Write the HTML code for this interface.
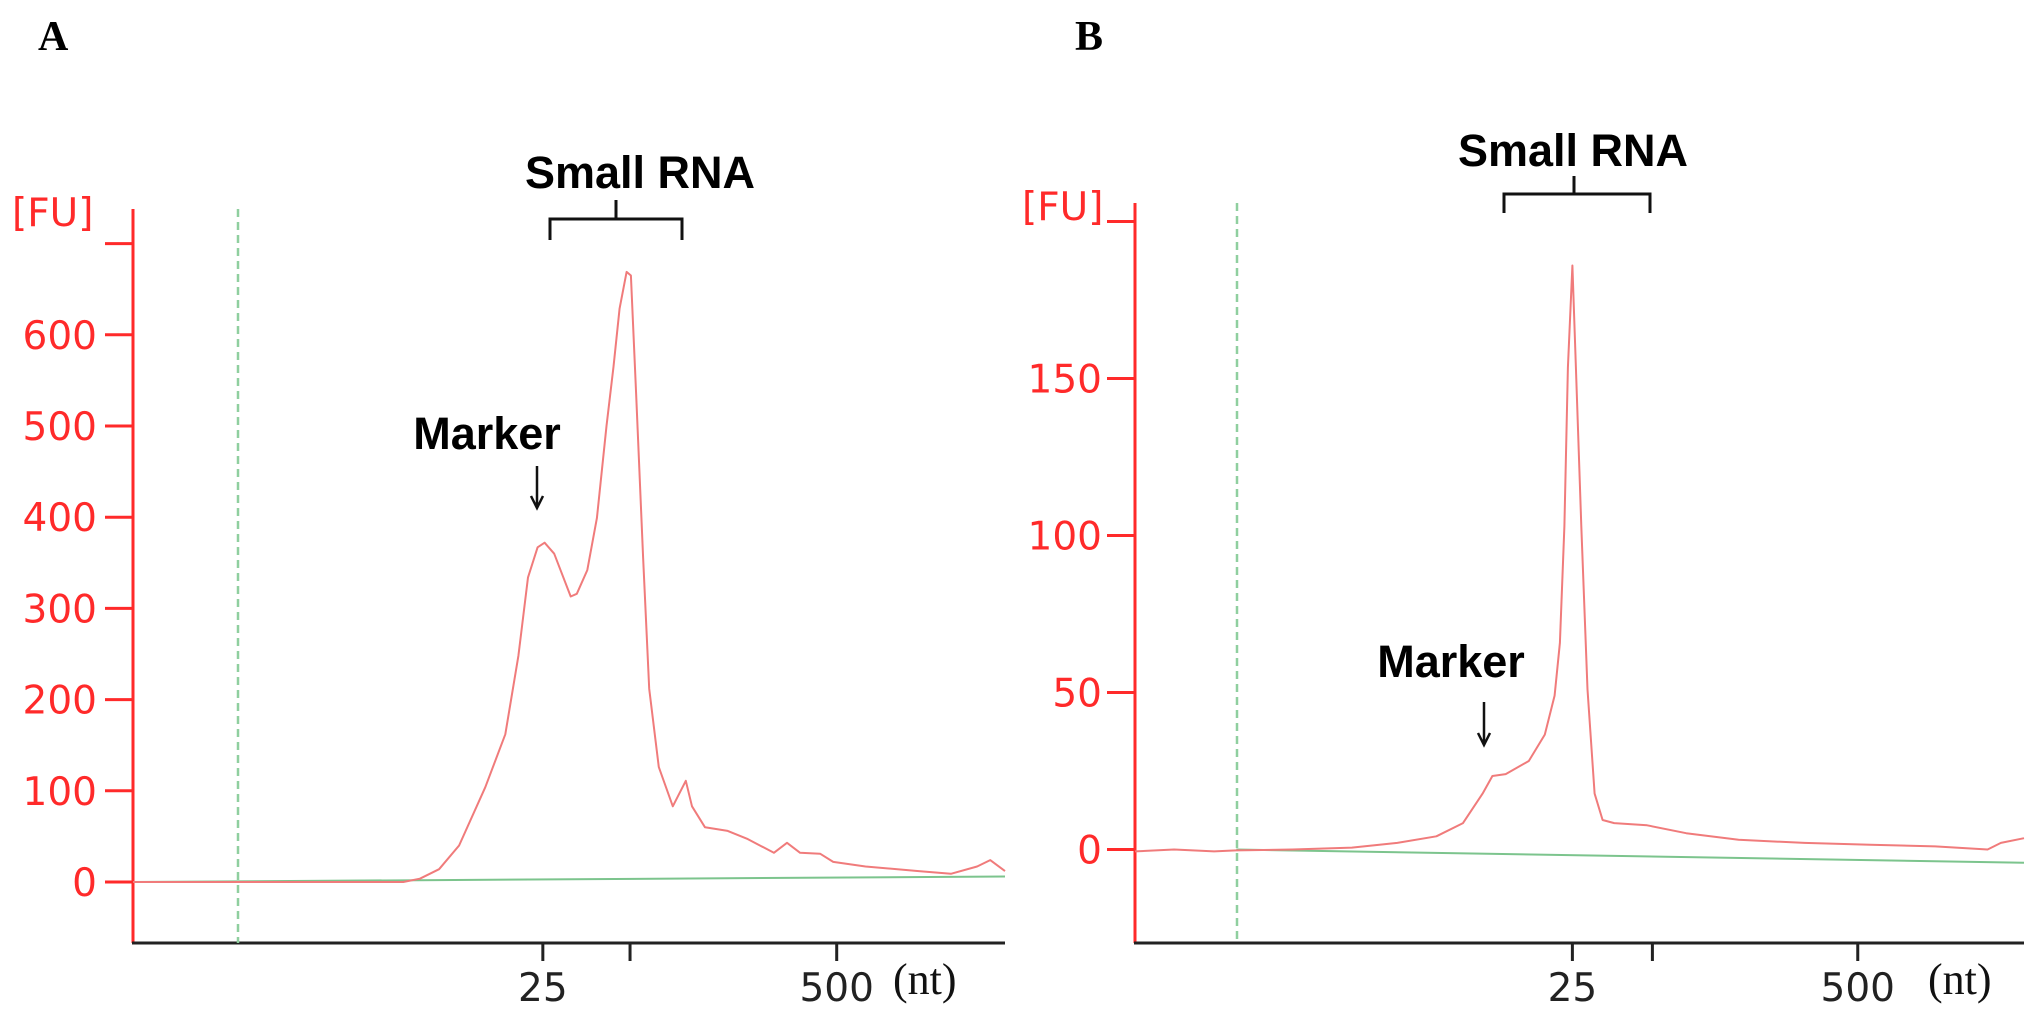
<!DOCTYPE html>
<html><head><meta charset="utf-8"><style>
html,body{margin:0;padding:0;background:#fff;}
svg{display:block;}
.tick{font-family:"DejaVu Sans","Liberation Sans",sans-serif;font-size:39px;}
.ann{font-family:"Liberation Sans",sans-serif;font-weight:bold;font-size:45px;fill:#000;}
.ser{font-family:"Liberation Serif",serif;}
</style></head><body>
<svg id="fig" width="2034" height="1010" viewBox="0 0 2034 1010" xmlns="http://www.w3.org/2000/svg"></svg>
<script>
// Panel A data (x in relative migration units 0-100, y in FU)
const aTimes = [0,19,31,32.9,35.1,37.4,40.4,42.7,44.2,45.3,46.4,47.2,48.3,50.2,50.9,52.1,53.2,54.3,55.1,55.8,56.6,57.1,57.7,58.5,59.2,60.3,61.9,63.4,64.1,65.6,68.2,70.5,73.5,75,76.5,78.8,80.3,84,90.1,93.8,96.8,98.3,100];
const aFU = [0,0,0,3.6,14,40,104,162,248,334,367,372,360,313,316,342,399,500,565,629,669,665,536,356,212,126,83,111,83,60,56,47,32,43,32,31,22,17,12,9,17,24,12];
const aBaseT = [0,100];
const aBaseFU = [0,6];
const aYTicks = [0,100,200,300,400,500,600,700];
const aYLabels = ["0","100","200","300","400","500","600",""];
const aXTicks = [47,57,80.7];
const aXLabels = ["25","","500"];
// Panel B data
const bTimes = [0,4.4,8.9,11.4,17.7,24.4,29.5,33.9,36.9,39.1,40.2,41.7,44.3,46.1,47.2,47.8,48.3,48.7,49.2,49.6,50.2,50.9,51.7,52.6,53.9,57.6,62,67.9,75.3,82.7,90,95.9,97.4,100];
const bFU = [-0.6,0,-0.6,-0.3,0,0.6,2.1,4.2,8.4,17.8,23.4,24,28.2,36.6,49,65.8,103,153.5,186,153.5,103,51,17.8,9.4,8.4,7.7,5.2,3.1,2.1,1.5,1,0,2.1,3.6];
const bBaseT = [11.4,100];
const bBaseFU = [0,-4.2];
const bYTicks = [0,50,100,150,200];
const bYLabels = ["0","50","100","150",""];
const bXTicks = [49.2,58.2,81.3];
const bXLabels = ["25","","500"];

const NS="http://www.w3.org/2000/svg";
const svg=document.getElementById('fig');
function mk(tag,attrs,parent){const e=document.createElementNS(NS,tag);for(const k in attrs)e.setAttribute(k,attrs[k]);(parent||svg).appendChild(e);return e;}

function panel(p){
  const g=mk('g',{});
  
  
  const sx=t=>p.x0+(t/100)*(p.x1-p.x0);
  const sy=v=>p.y0pix-(v/p.unit)*p.unitPx;
  const L=mk('text',{x:p.letterX,y:50,'font-size':42,'font-weight':'bold',class:'ser'},g);L.textContent=p.letter;
  
  
  const ya=mk('line',{x1:p.x0,y1:p.yTop,x2:p.x0,y2:p.yBot,stroke:'#ff2a2a','stroke-width':3},g);
  
  
  const fu=mk('text',{x:p.fuX,y:p.fuY,fill:'#ff2a2a',class:'tick','font-size':36},g);fu.textContent='[FU]';
  
  
  p.yTicks.forEach((v,i)=>{
    const y=sy(v);
    const t=mk('line',{x1:p.x0-28,y1:y,x2:p.x0,y2:y,stroke:'#ff2a2a','stroke-width':3},g);
    
    
    if(p.yLabels[i]){const tx=mk('text',{x:p.labEnd,y:y+14,'text-anchor':'end',fill:'#ff2a2a',class:'tick'},g);tx.textContent=p.yLabels[i];
      
      }
  });
  const xa=mk('line',{x1:p.x0-1,y1:p.yBot,x2:p.x1,y2:p.yBot,stroke:'#222','stroke-width':3},g);
  
  
  p.xTicks.forEach((t,i)=>{
    const x=sx(t);
    const tk=mk('line',{x1:x,y1:p.yBot,x2:x,y2:p.yBot+18,stroke:'#222','stroke-width':3},g);
    
    
    if(p.xLabels[i]){const tx=mk('text',{x:x,y:1001,'text-anchor':'middle',fill:'#222',class:'tick'},g);tx.textContent=p.xLabels[i];
      
      }
  });
  const nt=mk('text',{x:p.ntX,y:994,'font-size':44,class:'ser',fill:'#111'},g);nt.textContent='(nt)';
  
  
  const dl=mk('line',{x1:p.dashX,y1:p.yTop,x2:p.dashX,y2:p.yBot,stroke:'#8fcf9f','stroke-width':2.5,'stroke-dasharray':'8,5'},g);
  
  
  const bl=mk('polyline',{points:p.baseT.map((t,i)=>sx(t)+','+sy(p.baseFU[i])).join(' '),fill:'none',stroke:'#7cc48d','stroke-width':2},g);
  
  
  const tr=mk('polyline',{points:p.times.map((t,i)=>sx(t).toFixed(1)+','+sy(p.fu[i]).toFixed(1)).join(' '),fill:'none',stroke:'#f07b7b','stroke-width':2,'stroke-linejoin':'round'},g);
  
  
  const sr=mk('text',{x:p.srX,y:p.srY,'text-anchor':'middle',class:'ann'},g);sr.textContent='Small RNA';
  
  
  const b=p.br;
  const br=mk('path',{d:`M${b[0]},${b[3]} L${b[0]},${b[2]} L${b[1]},${b[2]} L${b[1]},${b[3]} M${(b[0]+b[1])/2+b[5]},${b[2]} L${(b[0]+b[1])/2+b[5]},${b[4]}`,fill:'none',stroke:'#111','stroke-width':3},g);
  
  
  const mkT=mk('text',{x:p.mkX,y:p.mkY,'text-anchor':'middle',class:'ann'},g);mkT.textContent='Marker';
  
  
  const ar=mk('path',{d:`M${p.arX},${p.arY0} L${p.arX},${p.arY1} M${p.arX-6},${p.arY1-12} L${p.arX},${p.arY1} L${p.arX+6},${p.arY1-12}`,fill:'none',stroke:'#111','stroke-width':2.5},g);
  
  
}

panel({name:'panel-a',letter:'A',letterX:38,x0:133,x1:1005,yTop:209,yBot:943,y0pix:882,unit:100,unitPx:91.2,labEnd:97,
  fuX:12,fuY:226,dashX:238,ntX:893,times:aTimes,fu:aFU,baseT:aBaseT,baseFU:aBaseFU,yTicks:aYTicks,yLabels:aYLabels,
  xTicks:aXTicks,xLabels:aXLabels,srX:640,srY:188,br:[550,682,219,240,200,0],mkX:487,mkY:449,arX:537,arY0:466,arY1:508});
panel({name:'panel-b',letter:'B',letterX:1075,x0:1135,x1:2024,yTop:203,yBot:943,y0pix:849.5,unit:50,unitPx:157,labEnd:1102,
  fuX:1022,fuY:220,dashX:1237,ntX:1928,times:bTimes,fu:bFU,baseT:bBaseT,baseFU:bBaseFU,yTicks:bYTicks,yLabels:bYLabels,
  xTicks:bXTicks,xLabels:bXLabels,srX:1573,srY:166,br:[1504,1650,194,213,176,-3],mkX:1451,mkY:677,arX:1484,arY0:702,arY1:745});
</script>
</body></html>
